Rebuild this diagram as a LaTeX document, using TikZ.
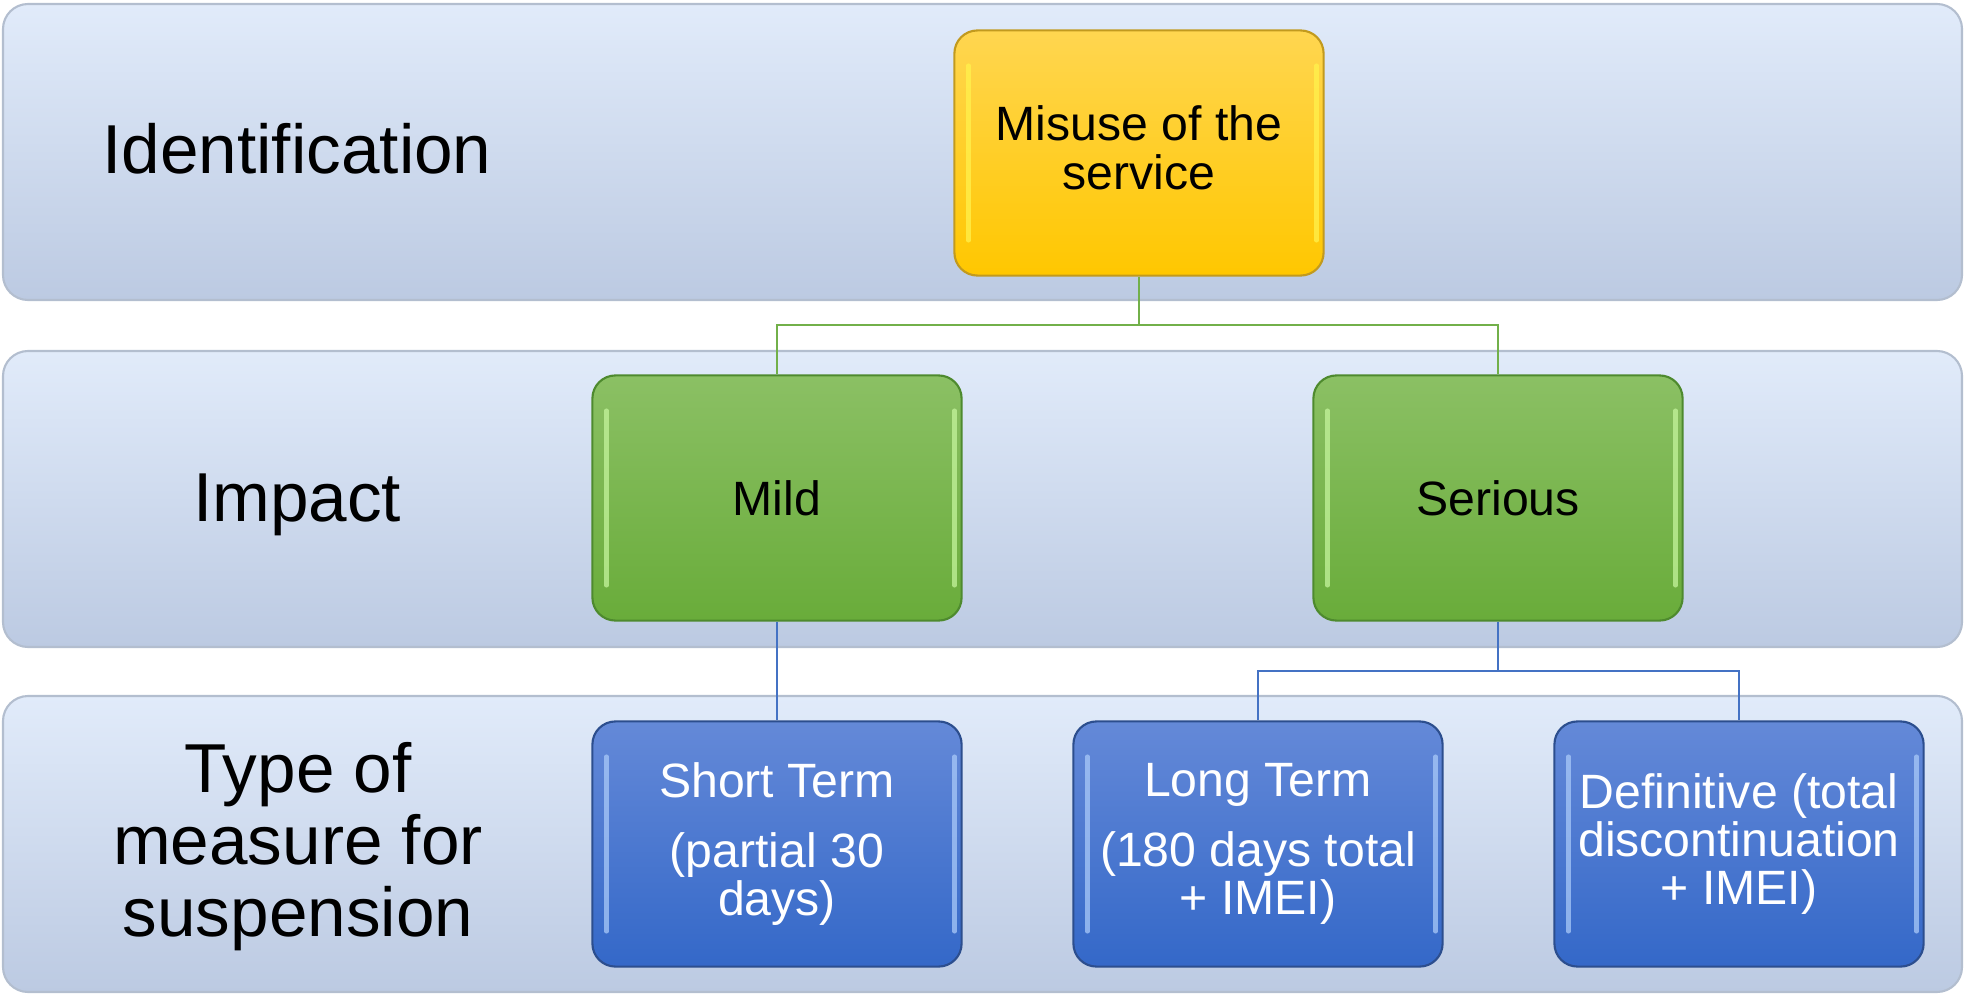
\documentclass[tikz,border=0pt]{standalone}
\usepackage{fontspec}
\setmainfont{Liberation Sans}
\usepackage{tikz}
\usepackage{xcolor}
\usetikzlibrary{positioning}

\definecolor{bandtop}{HTML}{E1EBFA}
\definecolor{bandbot}{HTML}{BCCAE2}
\definecolor{bandedge}{HTML}{B3BECF}
\definecolor{goldtop}{HTML}{FFD650}
\definecolor{goldbot}{HTML}{FFC700}
\definecolor{goldedge}{HTML}{C29A1E}
\definecolor{goldglow}{HTML}{FFF24D}
\definecolor{greentop}{HTML}{8BC064}
\definecolor{greenbot}{HTML}{69AC3A}
\definecolor{greenedge}{HTML}{4E8A2E}
\definecolor{greenglow}{HTML}{C4F49C}
\definecolor{bluetop}{HTML}{6489D8}
\definecolor{bluebot}{HTML}{3468C8}
\definecolor{blueedge}{HTML}{2C4E8E}
\definecolor{blueglow}{HTML}{A9C9F8}
\definecolor{greenlink}{HTML}{72B04A}
\definecolor{bluelink}{HTML}{4472C4}

\tikzset{
  band/.style={draw=bandedge, line width=0.6pt, rounded corners=0.25cm,
    top color=bandtop, bottom color=bandbot},
  lvllabel/.style={font=\fontsize{19.7}{20.5}\selectfont, align=center},
  bevel/.style={path picture={
    \draw[#1, line width=1.2pt, line cap=round, opacity=0.75]
      ([xshift=4pt,yshift=-10pt]path picture bounding box.north west) --
      ([xshift=4pt,yshift=10pt]path picture bounding box.south west);
    \draw[#1, line width=1.2pt, line cap=round, opacity=0.75]
      ([xshift=-2pt,yshift=-10pt]path picture bounding box.north east) --
      ([xshift=-2pt,yshift=10pt]path picture bounding box.south east);
  }},
  card/.style={rounded corners=0.23cm, minimum width=3.69cm, minimum height=2.45cm,
    align=center, line width=0.6pt, font=\fontsize{13.7}{13.7}\selectfont},
  topbox/.style={card, draw=goldedge, top color=goldtop, bottom color=goldbot, bevel=goldglow},
  midbox/.style={card, draw=greenedge, top color=greentop, bottom color=greenbot, bevel=greenglow},
  lowbox/.style={card, draw=blueedge, top color=bluetop, bottom color=bluebot, bevel=blueglow, text=white},
  greenline/.style={draw=greenlink, line width=0.75pt},
  blueline/.style={draw=bluelink, line width=0.75pt}
}

\begin{document}
\begin{tikzpicture}[x=0.01cm, y=-0.01cm]
\useasboundingbox (0,0) rectangle (1964,994);

%bands
\draw[band] (3,4) rectangle (1962,300);
\draw[band] (3,351) rectangle (1962,647);
\draw[band] (3,696) rectangle (1962,992);

%level labels
\node[lvllabel, anchor=base] (ident) at (297,174) {Identification};
\node[lvllabel, anchor=base] (impact) at (297,521) {Impact};
\node[lvllabel] (measure) at (298,847) {Type of\\measure for\\suspension};

%boxes
\node[topbox] (misuse) at (1139,153) {Misuse of the\\service\vspace{3pt}};
\node[midbox] (mild) at (777,498) {Mild};
\node[midbox] (serious) at (1498,498) {Serious};
\node[lowbox] (short) at (777,844) {Short Term\\[6pt](partial 30\\days)};
\node[lowbox] (long) at (1258,844) {Long Term\\[6pt](180 days total\\+ IMEI)};
\node[lowbox] (definitive) at (1739,844) {Definitive (total\\discontinuation\\+ IMEI)};

%links
\coordinate (gsplit) at (1139,325);
\coordinate (bsplit) at (1498,671);
\draw[greenline] (misuse.south) -- (gsplit) -| (mild.north);
\draw[greenline] (gsplit) -| (serious.north);
\draw[blueline] (mild.south) -- (short.north);
\draw[blueline] (serious.south) -- (bsplit) -| (long.north);
\draw[blueline] (bsplit) -| (definitive.north);
\end{tikzpicture}
\end{document}
